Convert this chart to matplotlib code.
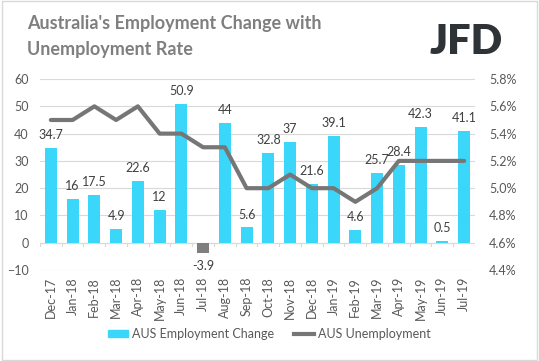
import matplotlib
matplotlib.use("Agg")
import matplotlib.pyplot as plt
from matplotlib.patches import Rectangle
from matplotlib.lines import Line2D

plt.rcParams['font.family'] = ['Lato', 'DejaVu Sans']

months = ["Dec-17", "Jan-18", "Feb-18", "Mar-18", "Apr-18", "May-18", "Jun-18",
          "Jul-18", "Aug-18", "Sep-18", "Oct-18", "Nov-18", "Dec-18", "Jan-19",
          "Feb-19", "Mar-19", "Apr-19", "May-19", "Jun-19", "Jul-19"]
employment_change = [34.7, 16, 17.5, 4.9, 22.6, 12, 50.9, -3.9, 44, 5.6, 32.8, 37,
                     21.6, 39.1, 4.6, 25.7, 28.4, 42.3, 0.5, 41.1]
unemployment = [5.5, 5.5, 5.6, 5.5, 5.6, 5.4, 5.4, 5.3, 5.3, 5.0, 5.0, 5.1,
                5.0, 5.0, 4.9, 5.0, 5.2, 5.2, 5.2, 5.2]
left_ticks = [-10, 0, 10, 20, 30, 40, 50, 60]
right_ticks = [4.4, 4.6, 4.8, 5.0, 5.2, 5.4, 5.6, 5.8]

bar_color = "#3BD7FB"
neg_color = "#7F7F7F"
line_color = "#767676"
text_color = "#595959"

fig = plt.figure(figsize=(5.39, 3.61), dpi=100)
fig.patches.append(Rectangle((0.004, 0.004), 0.992, 0.992, transform=fig.transFigure,
                             fill=False, edgecolor="#D9D9D9", linewidth=1))

ax = fig.add_axes([0.0742, 0.252, 0.807, 0.529])
x = list(range(len(months)))
colors = [bar_color if v >= 0 else neg_color for v in employment_change]
ax.bar(x, employment_change, width=0.55, color=colors, zorder=2)
ax.set_ylim(-10, 60)
ax.set_xlim(-0.5, len(months) - 0.5)
ax.set_yticks(left_ticks)
ax.grid(axis='y', color="#D9D9D9", linewidth=0.8, zorder=0)
for s in ax.spines.values():
    s.set_visible(False)
ax.tick_params(axis='y', length=0, labelsize=9, labelcolor=text_color, pad=8)
ax.set_xticks(x)
ax.set_xticklabels(months, rotation=90, fontsize=9, color=text_color)
ax.tick_params(axis='x', length=0, pad=5)
ax.axhline(0, color="#D9D9D9", linewidth=0.8, zorder=1)
for i in range(len(months) + 1):
    ax.plot([i - 0.5, i - 0.5], [0, -1.2], color="#D9D9D9", linewidth=0.8, zorder=1)

for i, v in enumerate(employment_change):
    lbl = f"{v:g}"
    if v >= 0:
        ax.annotate(lbl, (i, v), xytext=(0, 5), textcoords="offset points",
                    ha="center", va="bottom", fontsize=9, color="#404040", zorder=5)
    else:
        ax.annotate(lbl, (i, v), xytext=(0, -5), textcoords="offset points",
                    ha="center", va="top", fontsize=9, color="#404040", zorder=5)

ax2 = ax.twinx()
ax2.plot(x, unemployment, color=line_color, linewidth=3, zorder=3, solid_capstyle='round')
ax2.set_ylim(4.4, 5.8)
ax2.set_yticks(right_ticks)
ax2.set_yticklabels([f"{t:.1f}%" for t in right_ticks])
for s in ax2.spines.values():
    s.set_visible(False)
ax2.tick_params(axis='y', length=0, labelsize=9, labelcolor=text_color, pad=10)

fig.text(0.05, 0.935, "Australia's Employment Change with", fontsize=13, fontweight='bold',
         color="#7F7F7F", va='center')
fig.text(0.05, 0.863, "Unemployment Rate", fontsize=13, fontweight='bold',
         color="#7F7F7F", va='center')
fig.text(0.932, 0.885, "JFD", fontsize=30, fontweight='heavy', color="#2E3338",
         va='center', ha='right')

handles = [Rectangle((0, 0), 1, 1, color=bar_color),
           Line2D([0], [0], color=line_color, linewidth=3)]
fig.legend(handles, ["AUS Employment Change", "AUS Unemployment"], loc='center',
           bbox_to_anchor=(0.5, 0.075), ncol=2, frameon=False, fontsize=9,
           labelcolor=text_color, handlelength=1.6, handleheight=0.5,
           columnspacing=1.6, handletextpad=0.3)

fig.savefig("out.png", dpi=100)
